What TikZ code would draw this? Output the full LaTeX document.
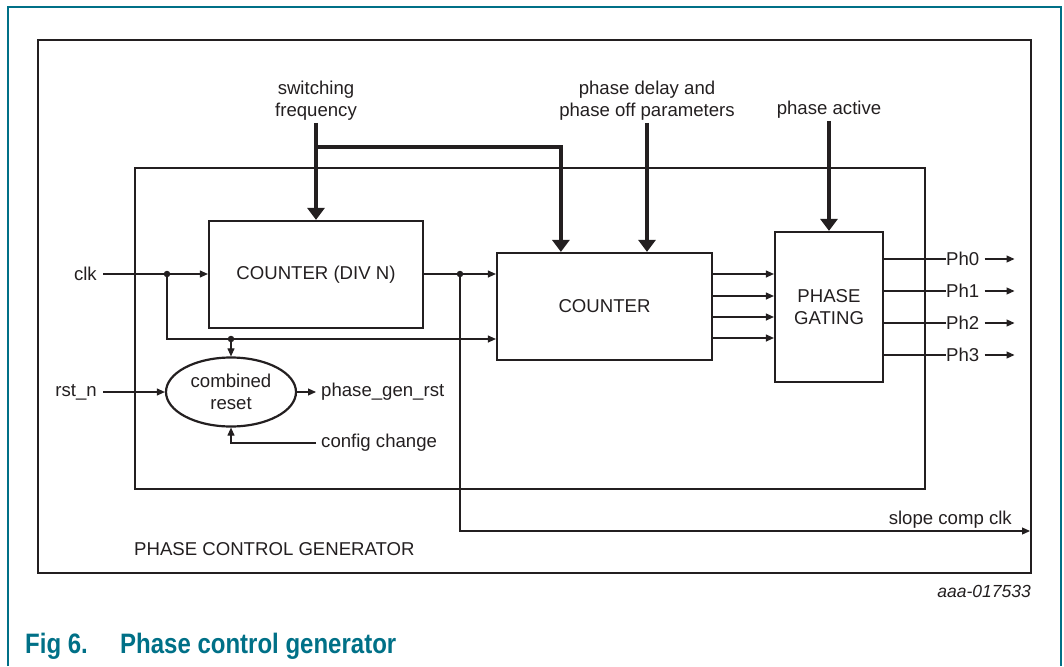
\documentclass[tikz,border=0pt]{standalone}
\usepackage{fontspec}
\setmainfont{Liberation Sans}
\usetikzlibrary{shapes,arrows.meta}
\definecolor{nxpteal}{RGB}{0,112,135}
\definecolor{ink}{RGB}{35,31,32}

\begin{document}
\begin{tikzpicture}[x=1pt,y=-1pt,
  box/.style={draw=ink,line width=2.2pt},
  lbl/.style={font=\fontsize{18.6}{22}\selectfont,text=ink,inner sep=0pt},
  sig/.style={draw=ink,line width=1.1pt},
  sigarr/.style={sig,-{Triangle[length=8pt,width=7pt]}},
  busarr/.style={draw=ink,line width=4.5pt,-{Triangle[length=12pt,width=17pt]}},
  dot/.style={circle,fill=ink,inner sep=0pt,minimum size=6.5pt}]
\useasboundingbox (0,0) rectangle (1064,666);
\draw[nxpteal,line width=1.4pt] (8,666) -- (8,7) -- (1061,7) -- (1061,666);

% frames
\draw[box] (38,40) rectangle (1031,573);
\draw[box] (135,168) rectangle (925,489);
\node[lbl,anchor=base west] (pcg) at (134,555) {PHASE CONTROL GENERATOR};

% blocks
\node[box,lbl,minimum width=214pt,minimum height=107pt] (div) at (316,274.5) {COUNTER (DIV N)};
\node[box,lbl,minimum width=215pt,minimum height=107pt] (cnt) at (604.5,306.5) {COUNTER};
\node[box,lbl,align=center,minimum width=108pt,minimum height=150pt] (gate) at (829,307) {PHASE\\GATING};
\node[box,lbl,ellipse,align=center,minimum width=130pt,minimum height=69pt] (rst) at (231,392) {combined\\reset};

% inputs at the top
\node[lbl,align=center] (fsw) at (316,101) {switching\\frequency};
\node[lbl,align=center] (pdel) at (647,101) {phase delay and\\phase off parameters};
\node[lbl] (pact) at (829,110) {phase active};
\coordinate (br) at (316,147);
\draw[busarr,shorten <=2pt] (fsw.south) -- (div.north);
\draw[busarr] (br) -| ([xshift=65pt]cnt.north west);
\draw[busarr,shorten <=2pt] (pdel.south) -- (pdel.south |- cnt.north);
\draw[busarr,shorten <=2pt] (pact.south -| gate.north) -- (gate.north);

% clock and reset
\node[lbl,anchor=east] (clk) at (97,274) {clk};
\node[dot] (j1) at (167,274) {};
\node[dot] (j2) at (231,339) {};
\node[dot] (j3) at (460,274) {};
\draw[sigarr,shorten <=6pt] (clk.east) -- (div.west |- clk.east);
\draw[sigarr] (j1.center) |- (j2.center) -- (cnt.west |- j2);
\draw[sigarr] (j2) -- (rst.north);
\draw[sigarr] (div.east |- j3) -- (cnt.west |- j3);

\node[lbl,anchor=east] (rstn) at (97,392) {rst\_n};
\node[lbl,anchor=west] (pgr) at (321,392) {phase\_gen\_rst};
\node[lbl,anchor=west] (cfg) at (321,443) {config change};
\draw[sigarr,shorten <=6pt] (rstn.east) -- (rst.west);
\draw[sigarr,shorten >=5pt] (rst.east) -- (pgr.west);
\draw[sigarr,shorten <=5pt] (cfg.west) -| (rst.south);

% slope comp clock
\coordinate (scout) at (1030,531);
\node[lbl,anchor=base east] (sclk) at (1012,524) {slope comp clk};
\draw[sigarr] (j3.center) |- (scout);

% counter to gating, gating outputs
\foreach \y in {274,296,317,338}
  \draw[sigarr] (cnt.east |- 0,\y) -- (gate.west |- 0,\y);
\foreach \i/\y in {0/259,1/291,2/323,3/355} {
  \node[lbl,anchor=west] (ph\i) at (946,\y) {Ph\i};
  \draw[sig] (gate.east |- ph\i.west) -- (ph\i.west);
  \draw[sigarr,shorten <=5pt] (ph\i.east) -- ++(35,0);
}

% figure tag and caption
\node[lbl,font=\fontsize{17.5}{20}\selectfont\itshape,anchor=base east] (tag) at (1031,597) {aaa-017533};
\node[anchor=base west,inner sep=0pt,text=nxpteal,font=\fontsize{24}{28}\selectfont\bfseries] (capnum) at (25,653) {\scalebox{1}[1.17]{Fig 6.}};
\node[anchor=base west,inner sep=0pt,text=nxpteal,font=\fontsize{24}{28}\selectfont\bfseries] (cap) at (120,653) {\scalebox{1}[1.17]{Phase control generator}};
\end{tikzpicture}
\end{document}
